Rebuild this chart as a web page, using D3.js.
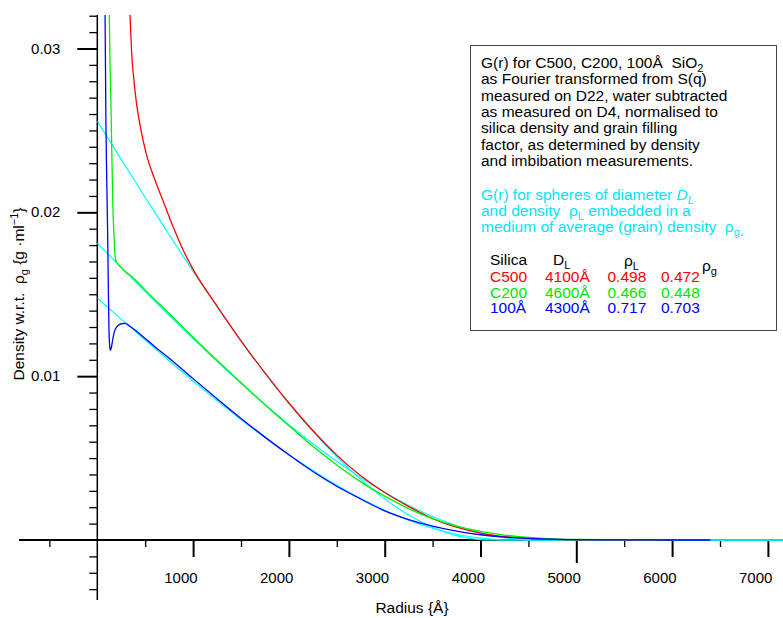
<!DOCTYPE html>
<html><head><meta charset="utf-8">
<script src="https://cdn.jsdelivr.net/npm/d3@7/dist/d3.min.js"></script>
<style>
body{margin:0;background:#fff}
svg{display:block}
text{font-family:"Liberation Sans",Arial,Helvetica,sans-serif;white-space:pre}
</style>
</head><body>
<svg id="c" width="783" height="618"></svg>
<script>
// ---- data (radius in Å, density in g/ml) ----
const c500R = [330,345,360,380,406,450,510,600,700,800,900,1000,1250,1500,1750,2000,2250,2500,2750,3000,3250,3500,3750,4000,4250,4500,4750,5000,5500,6000];
const c500V = [0.0340,0.0315,0.0296,0.0282,0.0268,0.0252,0.0236,0.0220,0.0205,0.0190,0.01765,0.01652,0.01428,0.01216,0.01020,0.00836,0.00668,0.00518,0.00392,0.00290,0.00205,0.00131,0.00078,0.00042,0.00021,0.00010,0.00004,0.00001,0.0,0.0];

const c200R = [115,125,132,142,152,162,175,188,205,215,240,280,365,500,750,1000,1250,1500,1750,2000,2250,2500,2750,3000,3250,3500,3750,4000,4250,4500,4750,5000,5500,6000];
const c200V = [0.0360,0.0322,0.0293,0.0268,0.0235,0.0205,0.0185,0.0172,0.01690,0.01685,0.01670,0.01645,0.01605,0.01525,0.01382,0.01238,0.01097,0.00960,0.00826,0.00698,0.00572,0.00458,0.00355,0.00268,0.00192,0.00130,0.00085,0.00052,0.00030,0.00016,0.00007,0.00003,0.00001,0.0];

const a100R = [70,81,90,100,108,115,122,130,136,145,160,180,210,250,290,350,450,600,750,1000,1250,1500,1750,2000,2250,2500,2750,3000,3250,3500,3750,4000,4250,4500,4750,5000,5500,6000,6400];
const a100V = [0.0360,0.0322,0.0254,0.0215,0.0187,0.0155,0.0128,0.0118,0.01159,0.0117,0.0122,0.01275,0.01305,0.0132,0.01322,0.0130,0.01255,0.01180,0.01110,0.00985,0.00862,0.00742,0.00628,0.00520,0.00418,0.00328,0.00250,0.00178,0.00125,0.00085,0.00054,0.00032,0.00018,0.00010,0.00005,0.00002,0.00001,0.0,0.0];

const sph1R = [0,250,500,750,1000,1250,1500,1750,2000,2250,2500,2750,3000,3250,3500,3750,4000,4100,7200];
const sph1V = [0.02557,0.02323,0.02092,0.01863,0.01640,0.01424,0.01216,0.01019,0.00834,0.00663,0.00508,0.00370,0.00251,0.00153,0.00078,0.00027,0.00002,0.0,0.0];
const sph2R = [0,250,500,750,1000,1250,1500,1750,2000,2250,2500,2750,3000,3250,3500,3750,4000,4250,4500,4600,7200];
const sph2V = [0.01811,0.01664,0.01517,0.01372,0.01230,0.01091,0.00957,0.00827,0.00704,0.00588,0.00480,0.00380,0.00291,0.00211,0.00143,0.00087,0.00044,0.00015,0.00001,0.0,0.0];
const sph3R = [0,250,500,750,1000,1250,1500,1750,2000,2250,2500,2750,3000,3250,3500,3750,4000,4250,4300,7200];
const sph3V = [0.01477,0.01348,0.01221,0.01094,0.00971,0.00851,0.00736,0.00625,0.00521,0.00424,0.00334,0.00253,0.00182,0.00121,0.00072,0.00035,0.00011,0.0,0.0,0.0];

const xMajorTicks = [1000,2000,3000,4000,5000,6000,7000];
const xMinorTicks = [-500,500,1500,2500,3500,4500,5500,6500];
const yMajorTicks = [0.01,0.02,0.03];
const yMinorTicks = [-0.003,-0.002,-0.001,0.001,0.002,0.003,0.004,0.005,0.006,0.007,0.008,0.009,0.011,0.012,0.013,0.014,0.015,0.016,0.017,0.018,0.019,0.021,0.022,0.023,0.024,0.025,0.026,0.027,0.028,0.029,0.031,0.032];

const tableRows = [
  {name:"C500", d:"4100Å", rl:"0.498", rg:"0.472", color:"#ff0000"},
  {name:"C200", d:"4600Å", rl:"0.466", rg:"0.448", color:"#00e600"},
  {name:"100Å", d:"4300Å", rl:"0.717", rg:"0.703", color:"#0000ff"}
];

// ---- drawing ----
const svg = d3.select("#c");
const x = d3.scaleLinear().domain([0,7000]).range([97.3,767.9]);
const y = d3.scaleLinear().domain([0,0.03]).range([540,48.5]);
const X0 = x(0), Y0 = y(0);
const FONT = '"Liberation Sans",Arial,sans-serif';

// axes lines
svg.append("line").attr("x1",19).attr("x2",783).attr("y1",Y0).attr("y2",Y0).attr("stroke","#000").attr("stroke-width",2);
svg.append("line").attr("x1",X0).attr("x2",X0).attr("y1",15).attr("y2",600).attr("stroke","#000").attr("stroke-width",1.5);

// y axis ticks
const yMin = d3.axisLeft(y).tickValues(yMinorTicks).tickSize(8).tickFormat("");
const gyMin = svg.append("g").attr("transform",`translate(${X0},0)`).call(yMin);
gyMin.select(".domain").remove();
gyMin.selectAll("line").attr("stroke-width",1.3);
const yMaj = d3.axisLeft(y).tickValues(yMajorTicks).tickSize(20).tickPadding(17).tickFormat(d3.format(".2f"));
const gyMaj = svg.append("g").attr("transform",`translate(${X0},0)`).call(yMaj);
gyMaj.select(".domain").remove();
gyMaj.selectAll("line").attr("stroke-width",2);
gyMaj.selectAll("text").attr("font-size",15).attr("fill","#000").attr("dy","0.3em").style("font-family",FONT);

// x axis ticks
const xMin = d3.axisBottom(x).tickValues(xMinorTicks).tickSize(7).tickFormat("");
const gxMin = svg.append("g").attr("transform",`translate(0,${Y0})`).call(xMin);
gxMin.select(".domain").remove();
gxMin.selectAll("line").attr("stroke-width",1.3);
const xMaj = d3.axisBottom(x).tickValues(xMajorTicks).tickSize(17).tickFormat(d3.format("d"));
const gxMaj = svg.append("g").attr("transform",`translate(0,${Y0})`).call(xMaj);
gxMaj.select(".domain").remove();
gxMaj.selectAll("line").attr("stroke-width",2).attr("y2",d=>d===5000?23:17);
gxMaj.selectAll("text").attr("font-size",15).attr("fill","#000").attr("text-anchor","end").attr("x",4).attr("y",43).attr("dy",0).style("font-family",FONT);

// axis titles
svg.append("text").attr("x",412).attr("y",613).attr("text-anchor","middle").attr("font-size",15.5).text("Radius {Å}");
const yt = svg.append("text").attr("transform","translate(24,294) rotate(-90)").attr("text-anchor","middle").attr("font-size",15.5);
yt.append("tspan").text("Density w.r.t.  ρ");
yt.append("tspan").attr("dy",4).attr("font-size",11).text("g");
yt.append("tspan").attr("dy",-4).text(" {g ·ml");
yt.append("tspan").attr("dy",-6).attr("font-size",11).text("−1");
yt.append("tspan").attr("dy",6).text("}");

// curves
svg.append("defs").append("clipPath").attr("id","clip").append("rect").attr("x",X0).attr("y",15).attr("width",783-X0).attr("height",600-15);
const plot = svg.append("g").attr("clip-path","url(#clip)");
const line = d3.line().x(d=>x(d[0])).y(d=>y(d[1])).curve(d3.curveMonotoneX);
const zip = (R,V)=>R.map((r,i)=>[r,V[i]]);
const series = [
  {R:sph1R,V:sph1V,c:"#00ffff",w:1.2},
  {R:sph2R,V:sph2V,c:"#00ffff",w:1.2},
  {R:sph3R,V:sph3V,c:"#00ffff",w:1.2},
  {R:c500R,V:c500V,c:"#ff0000",w:1.3},
  {R:c200R,V:c200V,c:"#00ee00",w:1.3},
  {R:a100R,V:a100V,c:"#0000ff",w:1.3}
];
series.forEach(s=>{
  plot.append("path").attr("d",line(zip(s.R,s.V))).attr("fill","none").attr("stroke",s.c).attr("stroke-width",s.w);
});

// legend box
const lg = svg.append("g");
lg.append("rect").attr("x",470.5).attr("y",45.5).attr("width",306).attr("height",285).attr("fill","#fff").attr("stroke","#444").attr("stroke-width",1);
const blackLines = ["as Fourier transformed from S(q)","measured on D22, water subtracted","as measured on D4, normalised to","silica density and grain filling","factor, as determined by density","and imbibation measurements."];
const fs = 15.5, sfs = 11, lx = 481;
const t0 = lg.append("text").attr("x",lx).attr("y",68).attr("font-size",fs);
t0.append("tspan").text("G(r) for C500, C200, 100Å  SiO");
t0.append("tspan").attr("dy",4).attr("font-size",sfs).text("2");
blackLines.forEach((s,i)=>lg.append("text").attr("x",lx).attr("y",68+16.3*(i+1)).attr("font-size",fs).text(s));
const cyan = "#00e5ff";
const c1 = lg.append("text").attr("x",lx).attr("y",199.5).attr("font-size",fs).attr("fill",cyan);
c1.append("tspan").text("G(r) for spheres of diameter ");
c1.append("tspan").attr("font-style","italic").text("D");
c1.append("tspan").attr("font-style","italic").attr("dy",4).attr("font-size",sfs).text("L");
const c2 = lg.append("text").attr("x",lx).attr("y",215.8).attr("font-size",fs).attr("fill",cyan);
c2.append("tspan").text("and density  ρ");
c2.append("tspan").attr("dy",4).attr("font-size",sfs).text("L");
c2.append("tspan").attr("dy",-4).text(" embedded in a");
const c3 = lg.append("text").attr("x",lx).attr("y",232).attr("font-size",fs).attr("fill",cyan);
c3.append("tspan").text("medium of average (grain) density  ρ");
c3.append("tspan").attr("dy",4).attr("font-size",sfs).text("g");
c3.append("tspan").text(".");

// table header
lg.append("text").attr("x",490).attr("y",265).attr("font-size",fs).text("Silica");
const h1 = lg.append("text").attr("x",553).attr("y",265).attr("font-size",fs);
h1.append("tspan").text("D"); h1.append("tspan").attr("dy",4).attr("font-size",sfs).text("L");
const h2 = lg.append("text").attr("x",624).attr("y",266).attr("font-size",fs);
h2.append("tspan").text("ρ"); h2.append("tspan").attr("dy",4).attr("font-size",sfs).text("L");
const h3 = lg.append("text").attr("x",702).attr("y",271).attr("font-size",fs);
h3.append("tspan").text("ρ"); h3.append("tspan").attr("dy",4).attr("font-size",sfs).text("g");
tableRows.forEach((r,i)=>{
  const yy = 281.7 + 15.8*i;
  lg.append("text").attr("x",490).attr("y",yy).attr("font-size",fs).attr("fill",r.color).text(r.name);
  lg.append("text").attr("x",545).attr("y",yy).attr("font-size",fs).attr("fill",r.color).text(r.d);
  lg.append("text").attr("x",607.5).attr("y",yy).attr("font-size",fs).attr("fill",r.color).text(r.rl);
  lg.append("text").attr("x",661).attr("y",yy).attr("font-size",fs).attr("fill",r.color).text(r.rg);
});
</script>
</body></html>
